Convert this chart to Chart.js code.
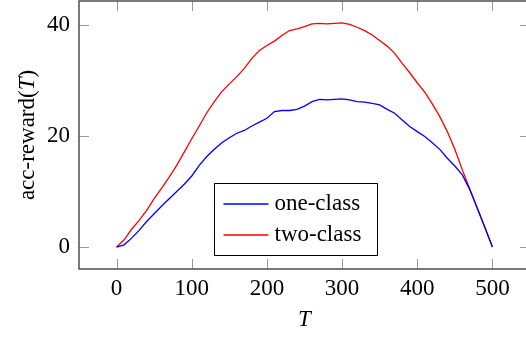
<!DOCTYPE html>
<html>
<head>
<meta charset="utf-8">
<script src="https://cdn.jsdelivr.net/npm/chart.js@4.4.0/dist/chart.umd.min.js"></script>
<style>
  html, body { margin: 0; padding: 0; background: #fff; overflow: hidden; }
  #wrap { width: 540px; height: 337px; }
</style>
</head>
<body>
<div id="wrap"><canvas id="rewardChart" width="540" height="337"></canvas></div>
<script>
// T values (steps)
const tValues = [0, 10, 20, 30, 40, 50, 60, 70, 80, 90, 100, 110, 120, 130, 140, 150, 160, 170, 180, 190,
    200, 210, 220, 230, 240, 250, 260, 270, 280, 290, 300, 310, 320, 330, 340, 350, 360, 370, 380, 390,
    400, 410, 420, 430, 440, 450, 460, 470, 480, 490, 500];

// acc-reward(T)
const oneClass = [0, 0.4, 1.6, 3.0, 4.6, 6.0, 7.4, 8.7, 10.0, 11.3, 12.8, 14.7, 16.3, 17.6, 18.8, 19.7, 20.5, 21.0, 21.8, 22.5,
    23.2, 24.4, 24.6, 24.6, 24.8, 25.4, 26.2, 26.6, 26.5, 26.6, 26.7, 26.5, 26.2, 26.1, 25.9, 25.6, 24.8, 24.1, 22.9, 21.7,
    20.8, 19.9, 18.8, 17.6, 16.0, 14.6, 13.0, 10.3, 7.0, 3.5, 0];
const twoClass = [0, 1.3, 3.2, 4.8, 6.6, 8.7, 10.6, 12.6, 14.7, 17.1, 19.5, 21.8, 24.2, 26.2, 28.0, 29.4, 30.7, 32.2, 34.0, 35.4,
    36.3, 37.1, 38.1, 39.0, 39.3, 39.7, 40.2, 40.3, 40.2, 40.3, 40.4, 40.1, 39.6, 39.0, 38.2, 37.2, 36.2, 34.9, 33.1, 31.4,
    29.6, 27.9, 25.8, 23.5, 20.8, 17.6, 13.9, 10.4, 6.9, 3.5, 0];

const xTicks = [0, 100, 200, 300, 400, 500];
const yTicks = [0, 20, 40];

const serif = '"Liberation Serif", "Times New Roman", serif';

// frame, inward tick marks, y title and legend box (pgfplots look)
const pgfDecor = {
    id: 'pgfDecor',
    afterDatasetsDraw(chart) {
        const { ctx, chartArea: a, scales } = chart;
        const tl = 10;
        ctx.save();
        ctx.strokeStyle = '#999';
        ctx.lineWidth = 1;
        ctx.beginPath();
        xTicks.forEach(v => {
            const px = Math.round(scales.x.getPixelForValue(v)) + 0.5;
            ctx.moveTo(px, a.bottom); ctx.lineTo(px, a.bottom - tl);
            ctx.moveTo(px, a.top); ctx.lineTo(px, a.top + tl);
        });
        yTicks.forEach(v => {
            const py = Math.round(scales.y.getPixelForValue(v)) + 0.5;
            ctx.moveTo(a.left, py); ctx.lineTo(a.left + tl, py);
            ctx.moveTo(a.right, py); ctx.lineTo(a.right - tl, py);
        });
        ctx.stroke();

        ctx.strokeStyle = '#444';
        ctx.lineWidth = 1.4;
        ctx.strokeRect(a.left, a.top, a.right - a.left, a.bottom - a.top);

        // y axis title with italic T
        const parts = [['acc-reward(', 'normal'], ['T', 'italic'], [')', 'normal']];
        ctx.fillStyle = '#000';
        ctx.textBaseline = 'middle';
        let total = 0;
        parts.forEach(p => { ctx.font = p[1] + ' 23px ' + serif; total += ctx.measureText(p[0]).width; });
        ctx.translate(28, (a.top + a.bottom) / 2);
        ctx.rotate(-Math.PI / 2);
        let cx = -total / 2;
        ctx.textAlign = 'left';
        parts.forEach(p => {
            ctx.font = p[1] + ' 23px ' + serif;
            ctx.fillText(p[0], cx, 0);
            cx += ctx.measureText(p[0]).width;
        });
        ctx.restore();

        // legend
        ctx.save();
        const bx = 214.5, by = 183.5, bw = 163, bh = 72;
        ctx.fillStyle = '#fff';
        ctx.fillRect(bx, by, bw, bh);
        ctx.strokeStyle = '#000';
        ctx.lineWidth = 1;
        ctx.strokeRect(bx, by, bw, bh);
        ctx.font = '23px ' + serif;
        ctx.textBaseline = 'middle';
        ctx.textAlign = 'left';
        chart.data.datasets.forEach((ds, i) => {
            const ly = by + 20.5 + i * 31;
            ctx.strokeStyle = ds.borderColor;
            ctx.lineWidth = 1.3;
            ctx.beginPath();
            ctx.moveTo(bx + 9, ly); ctx.lineTo(bx + 54, ly);
            ctx.stroke();
            ctx.fillStyle = '#000';
            ctx.fillText(ds.label, bx + 60, ly);
        });
        ctx.restore();
    }
};

function noPad(s) {
    s.paddingTop = 0; s.paddingBottom = 0; s.paddingLeft = 0; s.paddingRight = 0;
}

new Chart(document.getElementById('rewardChart').getContext('2d'), {
    type: 'line',
    data: {
        datasets: [{
            label: 'one-class',
            data: tValues.map((t, i) => ({ x: t, y: oneClass[i] })),
            borderColor: '#0000ff',
            borderWidth: 1.3,
            pointRadius: 0,
            tension: 0
        }, {
            label: 'two-class',
            data: tValues.map((t, i) => ({ x: t, y: twoClass[i] })),
            borderColor: '#ff0000',
            borderWidth: 1.3,
            pointRadius: 0,
            tension: 0
        }]
    },
    options: {
        responsive: false,
        animation: false,
        layout: { autoPadding: false, padding: { left: 0, top: 1, right: 10, bottom: 0 } },
        plugins: { legend: { display: false }, tooltip: { enabled: false } },
        scales: {
            x: {
                type: 'linear',
                min: -50,
                max: 550,
                afterBuildTicks: s => { s.ticks = xTicks.map(v => ({ value: v })); },
                afterFit: s => { s.height = 68; noPad(s); },
                grid: { display: false, drawTicks: false },
                border: { display: false },
                ticks: { color: '#000', font: { family: serif, size: 23 }, padding: 6, maxRotation: 0 },
                title: { display: true, text: 'T', color: '#000', font: { family: serif, size: 23, style: 'italic' }, padding: { top: 0, bottom: 3 } }
            },
            y: {
                min: -3.96,
                max: 44.33,
                afterBuildTicks: s => { s.ticks = yTicks.map(v => ({ value: v })); },
                afterFit: s => { s.width = 79; noPad(s); },
                grid: { display: false, drawTicks: false },
                border: { display: false },
                ticks: { color: '#000', font: { family: serif, size: 23 }, padding: 9 }
            }
        }
    },
    plugins: [pgfDecor]
});
</script>
</body>
</html>
